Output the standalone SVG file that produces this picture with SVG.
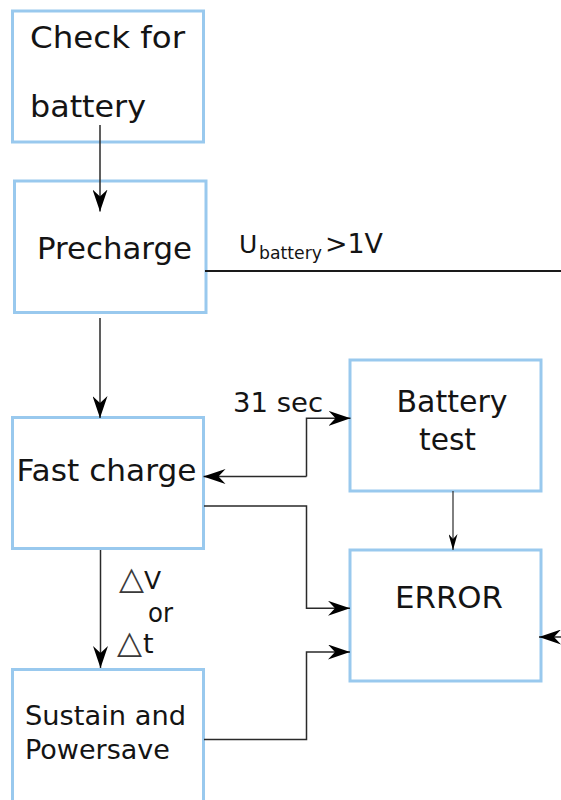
<svg xmlns="http://www.w3.org/2000/svg" width="561" height="800" viewBox="0 0 561 800">
<style>
.box{fill:#fff;stroke:#99c9ee;stroke-width:3}
.t{font-family:"DejaVu Sans",Verdana,sans-serif;fill:#141414}
.c{fill:none;stroke:#2a2a2a;stroke-width:1.5}
.d{fill:#3a3a3a}
</style>
<defs>
<marker id="ah" viewBox="0 0 22 15" refX="22" refY="7.5" markerWidth="22" markerHeight="15" orient="auto" markerUnits="userSpaceOnUse"><path d="M0,0 L22,7.5 L0,15 L7,7.5 z" fill="#000"/></marker>
<marker id="as" viewBox="0 0 16 9" refX="16" refY="4.5" markerWidth="16" markerHeight="9" orient="auto" markerUnits="userSpaceOnUse"><path d="M0,0 L16,4.5 L0,9 L5,4.5 z" fill="#000"/></marker>
</defs>
<rect width="561" height="800" fill="#fff"/>
<g id="check">
<rect class="box" x="12.5" y="11" width="191" height="131"/>
<text class="t" x="30" y="48" font-size="31" textLength="155" lengthAdjust="spacingAndGlyphs">Check for</text>
<text class="t" x="30" y="117" font-size="31" textLength="116" lengthAdjust="spacingAndGlyphs">battery</text>
</g>
<g id="precharge">
<rect class="box" x="14.5" y="181" width="191.5" height="131.5"/>
<text class="t" x="37" y="259" font-size="30" textLength="155" lengthAdjust="spacingAndGlyphs">Precharge</text>
</g>
<g id="fastcharge">
<rect class="box" x="12.5" y="417.5" width="191" height="131"/>
<text class="t" x="16.5" y="481" font-size="30" textLength="180" lengthAdjust="spacingAndGlyphs">Fast charge</text>
</g>
<g id="sustain">
<rect class="box" x="12.5" y="669.5" width="191" height="140"/>
<text class="t" x="25" y="725" font-size="27" textLength="161" lengthAdjust="spacingAndGlyphs">Sustain and</text>
<text class="t" x="25" y="759" font-size="27" textLength="145" lengthAdjust="spacingAndGlyphs">Powersave</text>
</g>
<g id="batterytest">
<rect class="box" x="350" y="360" width="191" height="131"/>
<text class="t" x="396.5" y="411.5" font-size="30" textLength="111" lengthAdjust="spacingAndGlyphs">Battery</text>
<text class="t" x="419" y="450" font-size="30" textLength="57" lengthAdjust="spacingAndGlyphs">test</text>
</g>
<g id="error">
<rect class="box" x="350" y="550" width="191" height="131"/>
<text class="t" x="395" y="607.5" font-size="31" textLength="108" lengthAdjust="spacingAndGlyphs">ERROR</text>
</g>
<g id="connectors">
<path class="c" d="M100,125 V211.5" marker-end="url(#ah)"/>
<path class="c" d="M100,318 V418" marker-end="url(#ah)"/>
<path class="c" d="M100.5,550 V668" marker-end="url(#ah)"/>
<path class="c" d="M205,271 H561" style="stroke:#1a1a1a;stroke-width:1.8"/>
<path class="c" d="M306.5,476.5 V418.3 H350.5" marker-end="url(#ah)"/>
<path class="c" d="M306.5,476.5 H203.5" marker-end="url(#ah)"/>
<path class="c" d="M204,506 H306.5 V608.3 H350" marker-end="url(#ah)"/>
<path class="c" d="M204,739.5 H306.5 V652 H350" marker-end="url(#ah)"/>
<path class="c" d="M453,491 V550" style="stroke-width:1.2" marker-end="url(#as)"/>
<path class="c" d="M561,637 H539" marker-end="url(#ah)"/>
</g>
<g id="labels">
<text class="t" x="239" y="253" font-size="25">U</text>
<text class="t" x="259" y="259" font-size="17" textLength="63" lengthAdjust="spacingAndGlyphs">battery</text>
<text class="t" x="325" y="253" font-size="27" textLength="58" lengthAdjust="spacingAndGlyphs">&gt;1V</text>
<text class="t" x="233" y="411.5" font-size="27" textLength="90" lengthAdjust="spacingAndGlyphs">31 sec</text>
<text class="t d" x="119" y="589" font-size="32" textLength="25" lengthAdjust="spacingAndGlyphs">△</text>
<text class="t" x="144" y="589" font-size="25">V</text>
<text class="t" x="148" y="622" font-size="26" textLength="25" lengthAdjust="spacingAndGlyphs">or</text>
<text class="t d" x="117" y="653" font-size="32" textLength="25" lengthAdjust="spacingAndGlyphs">△</text>
<text class="t" x="143" y="653" font-size="27">t</text>
</g>
</svg>
